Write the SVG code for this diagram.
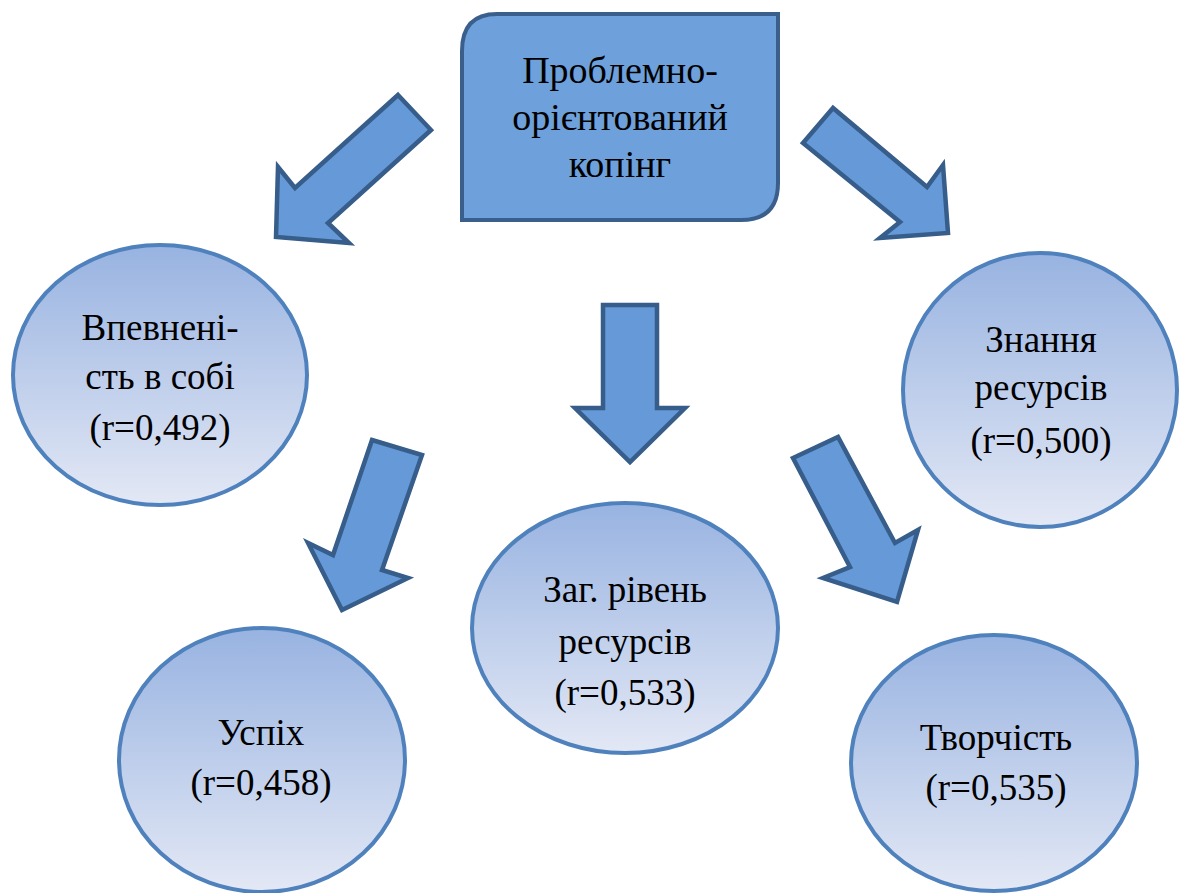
<svg xmlns="http://www.w3.org/2000/svg" width="1183" height="893" viewBox="0 0 1183 893">
<defs>
<linearGradient id="eg" x1="0" y1="0" x2="0" y2="1">
<stop offset="0" stop-color="#98b3e1"/>
<stop offset="1" stop-color="#e3e8f5"/>
</linearGradient>
<style>
.t{font-family:'Liberation Serif','Times New Roman',serif;fill:#000;text-anchor:middle}
.e{fill:url(#eg);stroke:#4f81bd;stroke-width:4}
.a{fill:#6699d8;stroke:#375d8a;stroke-width:4.5;stroke-linejoin:miter}
</style>
</defs>
<rect width="1183" height="893" fill="#fff"/>
<g id="connectors">
<path class="a" d="M398,95 L431,130 L328,223 L349,243 L276,237 L278,167 L295,188 Z"/>
<path class="a" d="M833,108 L803,143 L900,222 L880,238 L948,233 L943,165 L927,187 Z"/>
<path class="a" d="M603,305 L657,305 L657,408 L685,408 L630,462 L575,408 L603,408 Z"/>
<path class="a" d="M372,440 L422,455 L382,570 L408,578 L342,610 L308,543 L333,555 Z"/>
<path class="a" d="M793,458 L838,437 L895,543 L918,530 L897,602 L823,578 L850,567 Z"/>
</g>
<g id="node-coping">
<path d="M497,14 L778,14 L778,183 Q778,220 741,220 L462,220 L462,51 Q462,14 497,14 Z" fill="#6ea0db" stroke="#3b5f8c" stroke-width="4"/>
<text class="t" font-size="38" x="620" y="83">Проблемно-</text>
<text class="t" font-size="38" x="620" y="130">орієнтований</text>
<text class="t" font-size="38" x="620" y="177">копінг</text>
</g>
<g id="node-confidence">
<ellipse class="e" cx="160" cy="375" rx="147" ry="130"/>
<text class="t" font-size="37" x="160" y="340">Впевнені-</text>
<text class="t" font-size="37" x="160" y="389">сть в собі</text>
<text class="t" font-size="37" x="160" y="440">(r=0,492)</text>
</g>
<g id="node-knowledge">
<ellipse class="e" cx="1040" cy="390" rx="137" ry="137"/>
<text class="t" font-size="37" x="1041" y="352">Знання</text>
<text class="t" font-size="37" x="1041" y="400">ресурсів</text>
<text class="t" font-size="37" x="1041" y="453">(r=0,500)</text>
</g>
<g id="node-total">
<ellipse class="e" cx="625" cy="628" rx="153" ry="125"/>
<text class="t" font-size="37" x="625" y="602">Заг. рівень</text>
<text class="t" font-size="37" x="625" y="654">ресурсів</text>
<text class="t" font-size="37" x="625" y="705">(r=0,533)</text>
</g>
<g id="node-success">
<ellipse class="e" cx="262" cy="760" rx="143" ry="132"/>
<text class="t" font-size="37" x="261" y="745">Успіх</text>
<text class="t" font-size="37" x="261" y="795">(r=0,458)</text>
</g>
<g id="node-creativity">
<ellipse class="e" cx="994" cy="763" rx="143" ry="128"/>
<text class="t" font-size="37" x="996" y="750">Творчість</text>
<text class="t" font-size="37" x="996" y="800">(r=0,535)</text>
</g>
</svg>
